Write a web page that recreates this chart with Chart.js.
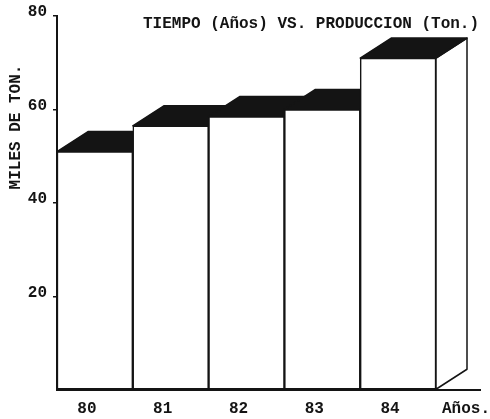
<!DOCTYPE html>
<html>
<head>
<meta charset="utf-8">
<script src="https://cdn.jsdelivr.net/npm/chart.js@4/dist/chart.umd.min.js"></script>
<style>
  body { margin: 0; background: #fff; }
</style>
</head>
<body>
<canvas id="prodChart" width="490" height="419"></canvas>
<script>
const years = ["80", "81", "82", "83", "84"];
const production = [51, 56.5, 58.5, 60, 71];
const yTicks = [20, 40, 60, 80];

const ink = '#141414';
const font = "'Liberation Mono', 'Courier New', monospace";
const depthX = 31;
const depthY = -20;

// draws the black tops and the white side faces behind the front of each bar
const box3d = {
    id: 'box3d',
    beforeDatasetsDraw(chart) {
        const ctx = chart.ctx;
        const bars = chart.getDatasetMeta(0).data;
        ctx.save();
        ctx.lineWidth = 1.5;
        ctx.strokeStyle = ink;
        ctx.lineJoin = 'round';
        bars.forEach(bar => {
            const left = bar.x - bar.width / 2;
            const right = bar.x + bar.width / 2;
            const top = bar.y;
            const base = bar.base;

            ctx.beginPath();
            ctx.moveTo(right, top);
            ctx.lineTo(right + depthX, top + depthY);
            ctx.lineTo(right + depthX, base + depthY);
            ctx.lineTo(right, base);
            ctx.closePath();
            ctx.fillStyle = '#fff';
            ctx.fill();
            ctx.stroke();

            ctx.beginPath();
            ctx.moveTo(left, top);
            ctx.lineTo(left + depthX, top + depthY);
            ctx.lineTo(right + depthX, top + depthY);
            ctx.lineTo(right, top);
            ctx.closePath();
            ctx.fillStyle = ink;
            ctx.fill();
            ctx.stroke();
        });
        ctx.restore();
    },
    afterDraw(chart) {
        const ctx = chart.ctx;
        const area = chart.chartArea;
        ctx.save();
        ctx.strokeStyle = ink;
        ctx.lineWidth = 2;
        ctx.beginPath();
        ctx.moveTo(area.right, area.bottom);
        ctx.lineTo(481, area.bottom);
        ctx.stroke();

        ctx.fillStyle = ink;
        ctx.font = "bold 16px " + font;
        ctx.textBaseline = 'middle';
        ctx.textAlign = 'left';
        ctx.fillText("TIEMPO (Años) VS. PRODUCCION (Ton.)", 143, 24);
        ctx.fillText("Años.", 442, 409);

        ctx.translate(16, 127);
        ctx.rotate(-Math.PI / 2);
        ctx.textAlign = 'center';
        ctx.fillText("MILES DE TON.", 0, 0);
        ctx.restore();
    }
};

const prodCtx = document.getElementById("prodChart").getContext('2d');
const prodConfig = {
    type: 'bar',
    data: {
        labels: years,
        datasets: [
            {
                label: 'Producción',
                data: production,
                backgroundColor: '#fff',
                borderColor: ink,
                borderWidth: 1.5,
                borderSkipped: false,
                barPercentage: 1,
                categoryPercentage: 1
            }
        ]
    },
    options: {
        responsive: false,
        animation: false,
        layout: {
            padding: { top: 16, right: 54, left: 0, bottom: 0 }
        },
        plugins: {
            legend: { display: false },
            tooltip: { enabled: false }
        },
        scales: {
            x: {
                afterFit: scale => { scale.height = 29; },
                grid: { display: false, drawTicks: false },
                border: { display: true, color: ink, width: 2 },
                ticks: {
                    color: ink,
                    padding: 9,
                    labelOffset: -8,
                    font: { family: font, size: 16, weight: 'bold' }
                }
            },
            y: {
                min: 0,
                max: 80,
                afterFit: scale => { scale.width = 57; },
                afterBuildTicks: scale => {
                    scale.ticks = [0].concat(yTicks).map(v => ({ value: v }));
                },
                grid: {
                    drawOnChartArea: false,
                    drawTicks: true,
                    tickLength: 4,
                    lineWidth: 1.5,
                    color: c => (c.tick && c.tick.value === 0) ? 'rgba(0,0,0,0)' : ink
                },
                border: { display: true, color: ink, width: 2 },
                ticks: {
                    color: ink,
                    padding: 6,
                    labelOffset: -4,
                    font: { family: font, size: 16, weight: 'bold' },
                    callback: v => v === 0 ? '' : String(v)
                }
            }
        }
    },
    plugins: [box3d]
};

const prodChart = new Chart(prodCtx, prodConfig);
</script>
</body>
</html>
